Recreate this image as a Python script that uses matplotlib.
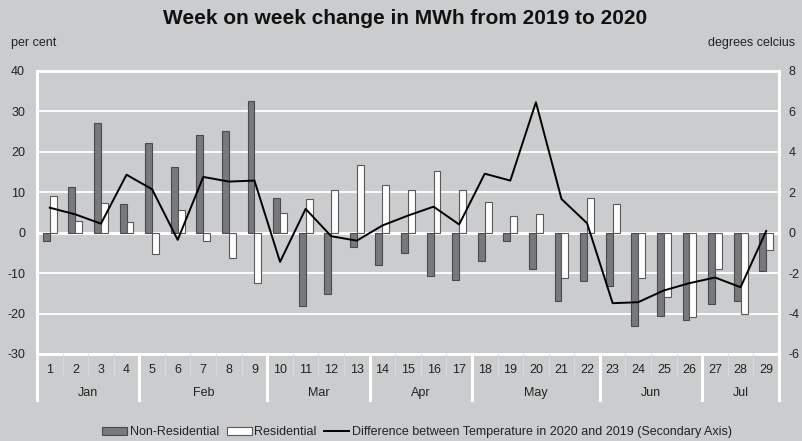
import matplotlib
matplotlib.use("Agg")
import matplotlib.pyplot as plt
import matplotlib.transforms as mtransforms
from matplotlib.patches import Patch
from matplotlib.lines import Line2D
import numpy as np

plt.rcParams['font.family'] = ['Liberation Sans', 'DejaVu Sans']
plt.rcParams['axes.unicode_minus'] = False

weeks = [str(i) for i in range(1, 30)]
months = ["Jan", "Feb", "Mar", "Apr", "May", "Jun", "Jul"]
month_weeks = [4, 5, 4, 4, 5, 4, 3]

non_residential = [-2.0, 11.3, 27.0, 7.0, 22.2, 16.2, 24.1, 25.1, 32.5, 8.6,
                   -18.1, -15.2, -3.6, -8.0, -5.1, -10.8, -11.8, -7.1, -2.1, -9.0,
                   -16.8, -12.0, -13.2, -23.2, -20.6, -21.6, -17.6, -17.0, -9.6]
residential = [9.1, 2.8, 7.4, 2.5, -5.3, 5.7, -2.1, -6.2, -12.5, 4.8,
               8.2, 10.4, 16.8, 11.7, 10.6, 15.3, 10.6, 7.6, 4.2, 4.6,
               -11.3, 8.5, 7.0, -11.3, -15.8, -20.9, -9.0, -20.1, -4.3]
temp_diff = [1.23, 0.9, 0.44, 2.86, 2.14, -0.36, 2.75, 2.52, 2.57, -1.45,
             1.17, -0.18, -0.4, 0.35, 0.84, 1.28, 0.4, 2.91, 2.57, 6.44,
             1.66, 0.46, -3.49, -3.44, -2.86, -2.5, -2.22, -2.7, 0.08]

bg = "#cbcccd"
txt = "#222222"
fig = plt.figure(figsize=(8.02, 4.41), dpi=100, facecolor=bg)
ax = fig.add_axes([0.0461, 0.1973, 0.9252, 0.6424], facecolor=bg)

x = np.arange(len(weeks))
w = 0.27
ax.bar(x - w / 2, non_residential, width=w, color="#78797d", edgecolor="#4a4a4a", linewidth=0.8, zorder=3)
ax.bar(x + w / 2, residential, width=w, color="white", edgecolor="#5a5a5a", linewidth=0.8, zorder=3)

ax.set_xlim(-0.5, len(weeks) - 0.5)
ax.set_ylim(-30, 40)
ax.set_yticks(np.arange(-30, 41, 10))
ax.yaxis.grid(True, color="white", linewidth=1.3, zorder=1)
ax.axhline(0, color="white", linewidth=2.2, zorder=2)
ax.set_axisbelow(True)
for s in ["top", "left", "right", "bottom"]:
    ax.spines[s].set_visible(False)
ax.tick_params(axis="y", length=0, pad=8.6, labelsize=9, colors=txt)
ax.tick_params(axis="x", length=0, labelbottom=False)
ax.set_xticks([])

ax.plot([-0.5, len(weeks) - 0.5], [40, 40], color="white", lw=2, clip_on=False, zorder=2)
ax.plot([-0.5, len(weeks) - 0.5], [-30, -30], color="white", lw=2, clip_on=False, zorder=2)

ax2 = ax.twinx()
ax2.set_ylim(-6, 8)
ax2.set_yticks(np.arange(-6, 9, 2))
ax2.plot(x, temp_diff, color="black", linewidth=1.4, zorder=5)
for s in ["top", "left", "right", "bottom"]:
    ax2.spines[s].set_visible(False)
ax2.tick_params(axis="y", length=0, pad=6.8, labelsize=9, colors=txt)

trans = mtransforms.blended_transform_factory(ax.transData, ax.transAxes)
for i, wk in enumerate(weeks):
    ax.text(i, -0.058, wk, transform=trans, ha="center", va="center", fontsize=9, color=txt)
    if i > 0:
        ax.plot([i - 0.5, i - 0.5], [0, -0.078], transform=trans, color="#d8d9da", lw=0.8, clip_on=False)
start = 0
bounds = [-0.5]
for m, n in zip(months, month_weeks):
    center = start + (n - 1) / 2
    ax.text(center, -0.137, m, transform=trans, ha="center", va="center", fontsize=9, color=txt)
    start += n
    bounds.append(start - 0.5)
for b in bounds:
    top = 1.0 if b in (-0.5, len(weeks) - 0.5) else 0
    ax.plot([b, b], [top, -0.162], transform=trans, color="white", lw=2.2, clip_on=False, zorder=6)

fig.text(0.505, 0.958, "Week on week change in MWh from 2019 to 2020", ha="center", va="center",
         fontsize=15, fontweight="bold", color="#111111")
fig.text(0.014, 0.902, "per cent", ha="left", va="center", fontsize=9, color=txt)
fig.text(0.992, 0.902, "degrees celcius", ha="right", va="center", fontsize=9, color=txt)

handles = [Patch(facecolor="#78797d", edgecolor="#4a4a4a", linewidth=0.8),
           Patch(facecolor="white", edgecolor="#5a5a5a", linewidth=0.8),
           Line2D([0], [0], color="black", lw=1.4)]
labels = ["Non-Residential", "Residential", "Difference between Temperature in 2020 and 2019 (Secondary Axis)"]
fig.legend(handles, labels, loc="center", bbox_to_anchor=(0.52, 0.02), ncol=3, frameon=False,
           fontsize=9, handlelength=2.0, handleheight=0.6, handletextpad=0.2, columnspacing=0.6,
           labelcolor=txt)

fig.savefig("out.png", dpi=100, facecolor=bg)
